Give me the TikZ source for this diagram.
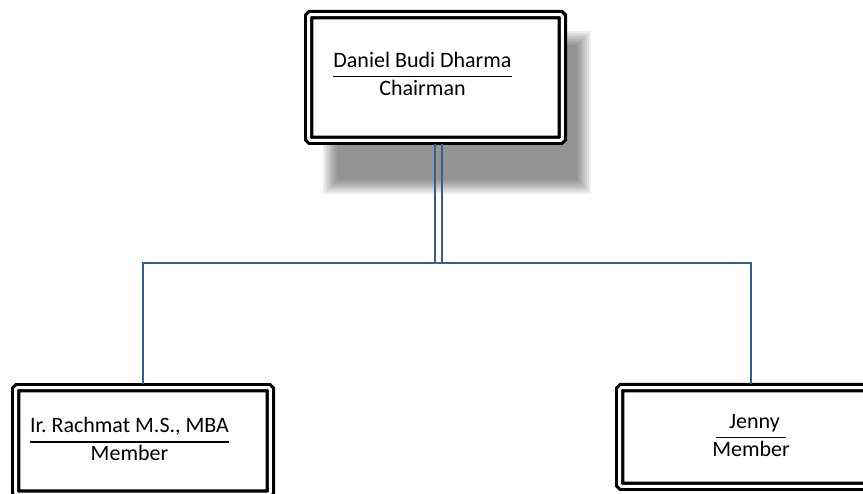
\documentclass[tikz,border=0pt]{standalone}
\usepackage{fontspec}
\setmainfont{Carlito}
\frenchspacing
\definecolor{connblue}{HTML}{365F91}
\newcommand{\nameline}[1]{\setbox0\hbox{#1}\rlap{\rule[-9.7pt]{\wd0}{1.4pt}}\box0}
\tikzset{
  boardbox/.style={draw=black, line width=3.2pt, double=white, double distance=3pt,
    rounded corners=1.5pt, fill=white, inner sep=0pt, outer sep=4pt},
  connline/.style={draw=connblue, line width=1.2pt},
  nametext/.style={align=center, inner sep=0pt, font=\fontsize{22}{28}\selectfont},
}
\begin{document}
\begin{tikzpicture}[x=1pt,y=-1pt]
  \useasboundingbox (0,0) rectangle (863,494);
  % soft shadow behind the chairman
  \foreach \s in {0,2,...,14}
    \fill[black,opacity=0.065] (337-\s,45-\s) rectangle (577+\s,180+\s);
  \node[boardbox, minimum width=253.6pt, minimum height=125.6pt] (chair) at (435.5,77.5) {};
  \node[boardbox, minimum width=254.6pt, minimum height=106.3pt] (rachmat) at (143,440.9) {};
  \node[boardbox, minimum width=262.6pt, minimum height=98.6pt] (jenny) at (751,437) {};
  \node[nametext] (chair-text) at ([xshift=-13pt,yshift=3.5pt]chair.center)
    {\nameline{Daniel Budi Dharma}\\Chairman};
  \node[nametext] (rachmat-text) at ([xshift=-13.5pt,yshift=1.5pt]rachmat.center)
    {\nameline{Ir. Rachmat M.S., MBA}\\Member};
  \node[nametext] (jenny-text) at ([yshift=1.5pt]jenny.center)
    {\nameline{\hspace{13pt}Jenny\hspace{6pt}}\\Member};
  % connectors
  \coordinate (junction) at (438.5,263);
  \coordinate (chair-foot) at (chair.south -| junction);
  \draw[connline] ([xshift=-3.5pt]chair-foot) -- ([xshift=-3.5pt]junction);
  \draw[connline] ([xshift=3.5pt]chair-foot) -- ([xshift=3.5pt]junction);
  \draw[connline] (rachmat.north) |- (junction) -| (jenny.north);
\end{tikzpicture}
\end{document}
